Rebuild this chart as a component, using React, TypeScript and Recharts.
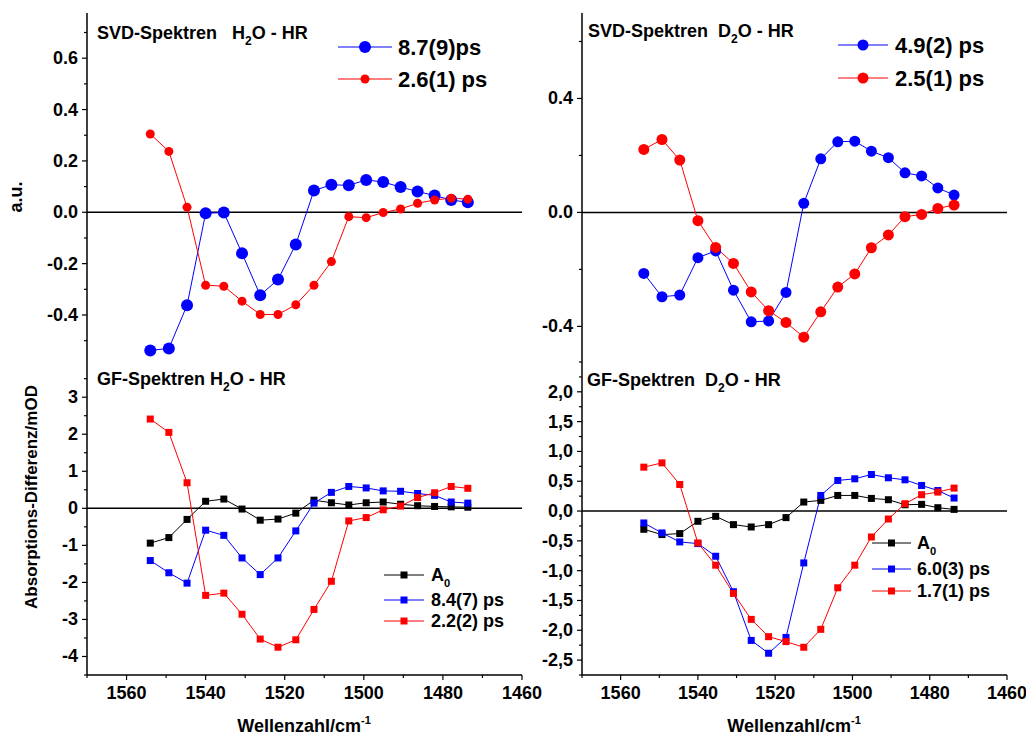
import React from 'react';
import { LineChart, Line, XAxis, YAxis, ReferenceLine } from 'recharts';

const FONT = '"Liberation Sans", Arial, Helvetica, sans-serif';
const BLUE = '#0000ff';
const RED = '#ff0000';
const BLACK = '#000000';

// wavenumber grid in cm^-1, the same for all four panels
const wavenumbers = [
  1554.0, 1549.3, 1544.7, 1540.0, 1535.4, 1530.8, 1526.2, 1521.7, 1517.2, 1512.6,
  1508.2, 1503.8, 1499.4, 1495.1, 1490.7, 1486.4, 1482.1, 1477.9, 1473.7,
];

// SVD spectra, H2O
const svdH2oSlow = [-0.538, -0.53, -0.362, -0.004, -0.001, -0.16, -0.323, -0.262, -0.125, 0.085, 0.107, 0.105, 0.126, 0.118, 0.098, 0.081, 0.065, 0.048, 0.039];
const svdH2oFast = [0.305, 0.237, 0.02, -0.284, -0.288, -0.346, -0.398, -0.398, -0.36, -0.284, -0.192, -0.017, -0.021, -0.001, 0.013, 0.035, 0.048, 0.055, 0.051];
// SVD spectra, D2O
const svdD2oSlow = [-0.214, -0.296, -0.29, -0.159, -0.135, -0.273, -0.384, -0.381, -0.281, 0.032, 0.188, 0.248, 0.25, 0.215, 0.192, 0.139, 0.128, 0.086, 0.061];
const svdD2oFast = [0.221, 0.256, 0.184, -0.029, -0.123, -0.179, -0.279, -0.345, -0.386, -0.438, -0.349, -0.262, -0.216, -0.124, -0.079, -0.015, -0.007, 0.014, 0.026];
// global fit, H2O
const gfH2oA0 = [-0.94, -0.79, -0.3, 0.19, 0.25, -0.02, -0.32, -0.29, -0.13, 0.22, 0.15, 0.09, 0.15, 0.17, 0.11, 0.07, 0.05, 0.04, 0.03];
const gfH2oSlow = [-1.41, -1.74, -2.02, -0.59, -0.73, -1.34, -1.79, -1.34, -0.61, 0.14, 0.43, 0.59, 0.55, 0.47, 0.46, 0.4, 0.35, 0.17, 0.14];
const gfH2oFast = [2.41, 2.05, 0.69, -2.35, -2.29, -2.86, -3.53, -3.75, -3.55, -2.73, -1.97, -0.34, -0.25, -0.04, 0.06, 0.29, 0.42, 0.59, 0.54];
// global fit, D2O
const gfD2oA0 = [-0.306, -0.395, -0.378, -0.172, -0.089, -0.228, -0.267, -0.228, -0.11, 0.151, 0.179, 0.262, 0.262, 0.212, 0.19, 0.106, 0.112, 0.056, 0.028];
const gfD2oSlow = [-0.2, -0.367, -0.518, -0.546, -0.758, -1.354, -2.17, -2.385, -2.12, -0.87, 0.262, 0.513, 0.541, 0.613, 0.558, 0.524, 0.429, 0.345, 0.218];
const gfD2oFast = [0.736, 0.808, 0.446, -0.535, -0.908, -1.382, -1.817, -2.107, -2.19, -2.285, -1.984, -1.287, -0.908, -0.435, -0.134, 0.123, 0.274, 0.318, 0.385];

// ticks
const xTicks = [1460, 1470, 1480, 1490, 1500, 1510, 1520, 1530, 1540, 1550, 1560, 1570];
const xLabels = [1460, 1480, 1500, 1520, 1540, 1560];
const svdH2oYTicks = [-0.5, -0.4, -0.3, -0.2, -0.1, 0, 0.1, 0.2, 0.3, 0.4, 0.5, 0.6, 0.7];
const svdH2oYLabels = [-0.4, -0.2, 0, 0.2, 0.4, 0.6];
const svdD2oYTicks = [-0.4, -0.2, 0, 0.2, 0.4, 0.6];
const svdD2oYLabels = [-0.4, 0, 0.4];
const gfH2oYTicks = [-4.5, -4, -3.5, -3, -2.5, -2, -1.5, -1, -0.5, 0, 0.5, 1, 1.5, 2, 2.5, 3, 3.5];
const gfH2oYLabels = [-4, -3, -2, -1, 0, 1, 2, 3];
const gfD2oYTicks = [-2.75, -2.5, -2.25, -2, -1.75, -1.5, -1.25, -1, -0.75, -0.5, -0.25, 0, 0.25, 0.5, 0.75, 1, 1.25, 1.5, 1.75, 2, 2.25, 2.5];
const gfD2oYLabels = [-2.5, -2, -1.5, -1, -0.5, 0, 0.5, 1, 1.5, 2];

const fmtInt = (v: number) => String(Math.round(v));
const fmtDot = (v: number) => v.toFixed(1);
const fmtComma = (v: number) => v.toFixed(1).replace('.', ',');

type Side = 'top' | 'bottom' | 'left' | 'right';
const near = (list: number[], v: number) => list.some((t) => Math.abs(t - v) < 1e-6);

function axisTick(side: Side, inward: boolean, majors: number[], fmt?: (v: number) => string) {
  return (props: any) => {
    const x = Number(props.x);
    const y = Number(props.y);
    const v = props.payload.value as number;
    const major = near(majors, v);
    const len = major ? 5 : 3;
    let dx = 0;
    let dy = 0;
    if (side === 'bottom') dy = inward ? -1 : 1;
    if (side === 'top') dy = inward ? 1 : -1;
    if (side === 'left') dx = inward ? 1 : -1;
    if (side === 'right') dx = inward ? -1 : 1;
    const textStyle = { fontFamily: FONT, fontWeight: 700, fontSize: 18, fill: BLACK };
    return (
      <g>
        <line x1={x} y1={y} x2={x + dx * len} y2={y + dy * len} stroke={BLACK} strokeWidth={1.2} />
        {fmt && major && side === 'bottom' && (
          <text x={x} y={y + 24} textAnchor="middle" style={textStyle}>{fmt(v)}</text>
        )}
        {fmt && major && side === 'left' && (
          <text x={x - 9} y={y + 6} textAnchor="end" style={textStyle}>{fmt(v)}</text>
        )}
      </g>
    );
  };
}

const squareDot = (color: string, size: number) => (p: any) => (
  <rect key={`sq-${p.index}`} x={p.cx - size / 2} y={p.cy - size / 2} width={size} height={size} fill={color} />
);

interface SeriesDef {
  key: string;
  color: string;
  values: number[];
  square: boolean;
  size: number;
}

interface PanelProps {
  box: { left: number; top: number; width: number; height: number };
  margin: { top: number; right: number; bottom: number; left: number };
  yWidth: number;
  xHeight: number;
  yDomain: [number, number];
  yTicks: number[];
  yLabels: number[];
  yFmt: (v: number) => string;
  lower: boolean;
  rightTicks: boolean;
  series: SeriesDef[];
}

function Panel(p: PanelProps) {
  const rows = wavenumbers.map((wn, i) => {
    const r: Record<string, number> = { wn };
    p.series.forEach((s) => {
      r[s.key] = s.values[i];
    });
    return r;
  });
  const axisLine = { stroke: BLACK, strokeWidth: 1.5 };
  return (
    <div style={{ position: 'absolute', left: p.box.left, top: p.box.top }}>
      <LineChart width={p.box.width} height={p.box.height} data={rows} margin={p.margin}>
        <XAxis
          xAxisId="b" dataKey="wn" type="number" domain={[1460, 1570]} reversed allowDataOverflow
          ticks={xTicks} interval={0} tickSize={0} tickMargin={0} tickLine={false}
          axisLine={axisLine} height={p.xHeight}
          tick={axisTick('bottom', !p.lower, xLabels, p.lower ? fmtInt : undefined)}
        />
        <XAxis
          xAxisId="t" orientation="top" dataKey="wn" type="number" domain={[1460, 1570]} reversed allowDataOverflow
          ticks={xTicks} interval={0} tickSize={0} tickMargin={0} tickLine={false}
          axisLine={axisLine} height={0} tick={axisTick('top', true, xLabels)}
        />
        <YAxis
          yAxisId="l" type="number" domain={p.yDomain} allowDataOverflow
          ticks={p.yTicks} interval={0} tickSize={0} tickMargin={0} tickLine={false}
          axisLine={axisLine} width={p.yWidth} tick={axisTick('left', false, p.yLabels, p.yFmt)}
        />
        <YAxis
          yAxisId="r" orientation="right" type="number" domain={p.yDomain} allowDataOverflow
          ticks={p.yTicks} interval={0} tickSize={0} tickMargin={0} tickLine={false}
          axisLine={axisLine} width={0} tick={p.rightTicks ? axisTick('right', true, p.yLabels) : false}
        />
        <ReferenceLine xAxisId="b" yAxisId="l" y={0} stroke={BLACK} strokeWidth={1.5} />
        {p.series.map((s) => (
          <Line
            key={s.key}
            xAxisId="b"
            yAxisId="l"
            type="linear"
            dataKey={s.key}
            stroke={s.color}
            strokeWidth={1}
            dot={s.square ? squareDot(s.color, s.size) : { r: s.size, fill: s.color, stroke: 'none' }}
            activeDot={false}
            isAnimationActive={false}
          />
        ))}
      </LineChart>
    </div>
  );
}

const titleStyle = { fontFamily: FONT, fontWeight: 700, fontSize: 18, fill: BLACK, whiteSpace: 'pre' as const };

function PanelTitle({ x, y, head, sub, tail }: { x: number; y: number; head: string; sub: string; tail: string }) {
  return (
    <text x={x} y={y} style={titleStyle}>
      {head}
      <tspan fontSize={12} dy={6}>{sub}</tspan>
      <tspan dy={-6}>{tail}</tspan>
    </text>
  );
}

interface LegendItem {
  label: string;
  sub?: string;
  color: string;
  square: boolean;
  size: number;
}

function LegendBlock({ x1, x2, textX, ys, items, fontSize }: { x1: number; x2: number; textX: number; ys: number[]; items: LegendItem[]; fontSize: number }) {
  const cx = (x1 + x2) / 2;
  return (
    <g>
      {items.map((it, i) => (
        <g key={it.label}>
          <line x1={x1} x2={x2} y1={ys[i]} y2={ys[i]} stroke={it.color} strokeWidth={1} />
          {it.square ? (
            <rect x={cx - it.size / 2} y={ys[i] - it.size / 2} width={it.size} height={it.size} fill={it.color} />
          ) : (
            <circle cx={cx} cy={ys[i]} r={it.size} fill={it.color} />
          )}
          <text x={textX} y={ys[i] + fontSize * 0.36} style={{ ...titleStyle, fontSize }}>
            {it.label}
            {it.sub && <tspan fontSize={fontSize * 0.62} dy={6}>{it.sub}</tspan>}
          </text>
        </g>
      ))}
    </g>
  );
}

const svdH2oLegend: LegendItem[] = [
  { label: '8.7(9)ps', color: BLUE, square: false, size: 6 },
  { label: '2.6(1) ps', color: RED, square: false, size: 4.5 },
];
const svdD2oLegend: LegendItem[] = [
  { label: '4.9(2) ps', color: BLUE, square: false, size: 5.5 },
  { label: '2.5(1) ps', color: RED, square: false, size: 5.5 },
];
const gfH2oLegend: LegendItem[] = [
  { label: 'A', sub: '0', color: BLACK, square: true, size: 7 },
  { label: '8.4(7) ps', color: BLUE, square: true, size: 7 },
  { label: '2.2(2) ps', color: RED, square: true, size: 7 },
];
const gfD2oLegend: LegendItem[] = [
  { label: 'A', sub: '0', color: BLACK, square: true, size: 7 },
  { label: '6.0(3) ps', color: BLUE, square: true, size: 7 },
  { label: '1.7(1) ps', color: RED, square: true, size: 7 },
];

export default function App() {
  return (
    <div style={{ position: 'absolute', left: 0, top: 0, width: 1026, height: 738, background: '#fff', overflow: 'hidden' }}>
      <Panel
        box={{ left: 0, top: 0, width: 560, height: 370 }}
        margin={{ top: 13, right: 38, bottom: 8, left: 0 }}
        yWidth={87} xHeight={0}
        yDomain={[-0.583, 0.776]} yTicks={svdH2oYTicks} yLabels={svdH2oYLabels} yFmt={fmtDot}
        lower={false} rightTicks={false}
        series={[
          { key: 'slow', color: BLUE, values: svdH2oSlow, square: false, size: 6 },
          { key: 'fast', color: RED, values: svdH2oFast, square: false, size: 4.5 },
        ]}
      />
      <Panel
        box={{ left: 530, top: 0, width: 496, height: 370 }}
        margin={{ top: 13, right: 19, bottom: 8, left: 0 }}
        yWidth={52} xHeight={0}
        yDomain={[-0.525, 0.7]} yTicks={svdD2oYTicks} yLabels={svdD2oYLabels} yFmt={fmtDot}
        lower={false} rightTicks
        series={[
          { key: 'slow', color: BLUE, values: svdD2oSlow, square: false, size: 5.5 },
          { key: 'fast', color: RED, values: svdD2oFast, square: false, size: 5.5 },
        ]}
      />
      <Panel
        box={{ left: 0, top: 340, width: 560, height: 398 }}
        margin={{ top: 22, right: 38, bottom: 23, left: 0 }}
        yWidth={87} xHeight={40}
        yDomain={[-4.5, 3.95]} yTicks={gfH2oYTicks} yLabels={gfH2oYLabels} yFmt={fmtInt}
        lower rightTicks={false}
        series={[
          { key: 'a0', color: BLACK, values: gfH2oA0, square: true, size: 7 },
          { key: 'slow', color: BLUE, values: gfH2oSlow, square: true, size: 7 },
          { key: 'fast', color: RED, values: gfH2oFast, square: true, size: 7 },
        ]}
      />
      <Panel
        box={{ left: 530, top: 340, width: 496, height: 398 }}
        margin={{ top: 22, right: 19, bottom: 23, left: 0 }}
        yWidth={52} xHeight={40}
        yDomain={[-2.75, 2.5]} yTicks={gfD2oYTicks} yLabels={gfD2oYLabels} yFmt={fmtComma}
        lower rightTicks={false}
        series={[
          { key: 'a0', color: BLACK, values: gfD2oA0, square: true, size: 7 },
          { key: 'slow', color: BLUE, values: gfD2oSlow, square: true, size: 7 },
          { key: 'fast', color: RED, values: gfD2oFast, square: true, size: 7 },
        ]}
      />
      <svg width={1026} height={738} style={{ position: 'absolute', left: 0, top: 0, pointerEvents: 'none' }}>
        <PanelTitle x={97} y={39} head="SVD-Spektren   H" sub="2" tail="O - HR" />
        <PanelTitle x={588} y={37} head="SVD-Spektren  D" sub="2" tail="O - HR" />
        <PanelTitle x={97} y={385} head="GF-Spektren H" sub="2" tail="O - HR" />
        <PanelTitle x={587} y={386} head="GF-Spektren  D" sub="2" tail="O - HR" />

        <LegendBlock x1={338} x2={392} textX={398} ys={[47, 79]} items={svdH2oLegend} fontSize={22} />
        <LegendBlock x1={838} x2={888} textX={895} ys={[45, 78]} items={svdD2oLegend} fontSize={22} />
        <LegendBlock x1={384} x2={424} textX={431} ys={[575, 600, 621]} items={gfH2oLegend} fontSize={18} />
        <LegendBlock x1={872} x2={911} textX={917} ys={[543, 569, 591]} items={gfD2oLegend} fontSize={18} />

        <text x={22} y={197} textAnchor="middle" transform="rotate(-90 22 197)" style={{ ...titleStyle, fontSize: 18 }}>a.u.</text>
        <text x={37} y={497} textAnchor="middle" transform="rotate(-90 37 497)" style={{ ...titleStyle, fontSize: 17 }}>
          Absorptions-Differenz/mOD
        </text>
        <text x={304} y={732} textAnchor="middle" style={titleStyle}>
          Wellenzahl/cm<tspan fontSize={11} dy={-8}>-1</tspan>
        </text>
        <text x={794} y={732} textAnchor="middle" style={titleStyle}>
          Wellenzahl/cm<tspan fontSize={11} dy={-8}>-1</tspan>
        </text>
      </svg>
    </div>
  );
}
